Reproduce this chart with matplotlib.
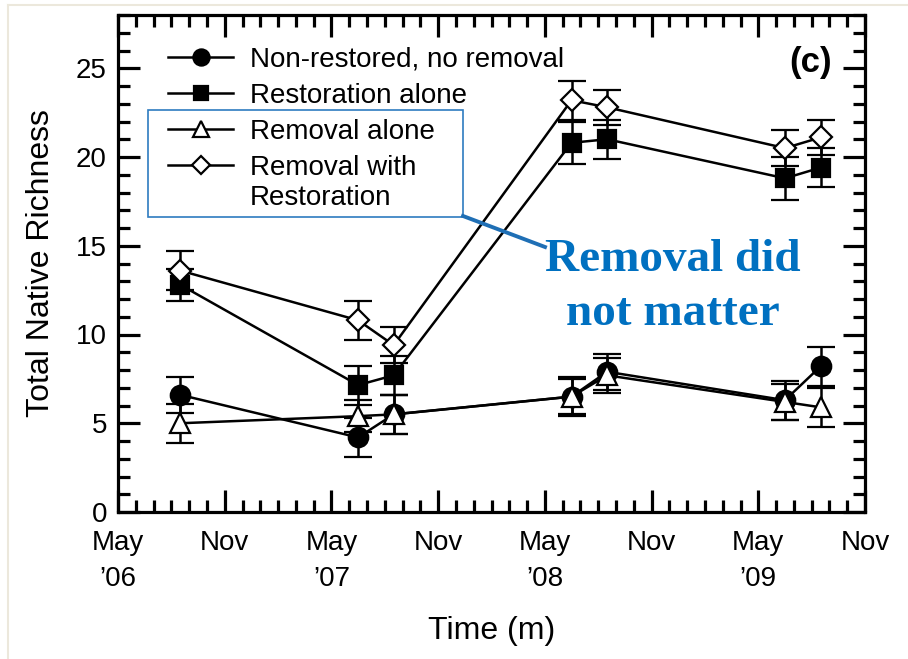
import matplotlib.pyplot as plt
from matplotlib.lines import Line2D
from matplotlib.patches import Rectangle
from matplotlib.ticker import MultipleLocator

plt.rcParams['font.family'] = ['Liberation Sans', 'DejaVu Sans']

# sampling dates, in months since May 2006
months = [3.5, 13.5, 15.5, 25.5, 27.5, 37.5, 39.5]

nonrestored = [6.6, 4.2, 5.5, 6.5, 7.9, 6.3, 8.2]
nonrestored_se = [1.0, 1.1, 1.1, 1.1, 1.0, 1.1, 1.1]
restoration = [12.8, 7.15, 7.7, 20.8, 21.0, 18.8, 19.4]
restoration_se = [0.9, 1.1, 1.1, 1.2, 1.1, 1.2, 1.1]
removal = [5.0, 5.4, 5.5, 6.5, 7.7, 6.2, 5.9]
removal_se = [1.1, 0.9, 1.1, 1.0, 1.0, 1.0, 1.1]
removal_rest = [13.6, 10.8, 9.4, 23.2, 22.8, 20.5, 21.1]
removal_rest_se = [1.1, 1.1, 1.0, 1.1, 1.0, 1.0, 1.0]

labels = ['Non-restored, no removal', 'Restoration alone',
          'Removal alone', 'Removal with']
xticklabels = ['May\n\u201906', 'Nov', 'May\n\u201907', 'Nov',
               'May\n\u201908', 'Nov', 'May\n\u201909', 'Nov']

fig = plt.figure(figsize=(9.08, 6.59), dpi=100)
ax = fig.add_axes([118/908, 1-512/659, (865-118)/908, (512-15)/659])

series = [
    (nonrestored, nonrestored_se, 'o', 'black', 14),
    (restoration, restoration_se, 's', 'black', 13),
    (removal, removal_se, '^', 'white', 14.5),
    (removal_rest, removal_rest_se, 'D', 'white', 11.5),
]
handles = []
for (y, se, m, fc, ms), lab in zip(series, labels):
    eb = ax.errorbar(months, y, yerr=se, color='black', lw=1.8,
                     marker=m, ms=ms, mfc=fc, mec='black', mew=1.6,
                     ecolor='black', elinewidth=1.8, capsize=10, capthick=2.5)
    handles.append(eb.lines[0])

ax.set_xlim(0, 42)
ax.set_ylim(0, 28)
ax.xaxis.set_minor_locator(MultipleLocator(1))
ax.yaxis.set_major_locator(MultipleLocator(5))
ax.yaxis.set_minor_locator(MultipleLocator(1))
ax.set_xticks(range(0, 43, 6))
ax.set_xticklabels(xticklabels, linespacing=1.5)

for s in ax.spines.values():
    s.set_linewidth(2.3)
ax.tick_params(which='both', direction='in', top=True, right=True,
               width=2.3, labelsize=20)
ax.tick_params(which='major', length=16)
ax.tick_params(which='minor', length=8.5)
ax.tick_params(axis='y', pad=8)
ax.tick_params(axis='x', pad=13)

ax.set_ylabel('Total Native Richness', fontsize=23, labelpad=14)
ax.set_xlabel('Time (m)', fontsize=23, labelpad=17)
ax.text(0.956, 0.905, '(c)', transform=ax.transAxes, fontsize=25,
        fontweight='bold', ha='right', va='center')

leg = ax.legend(handles, labels, loc='upper left',
                bbox_to_anchor=((168-118)/747, 0.937), frameon=False,
                fontsize=20, handlelength=2.35, handletextpad=0.6,
                labelspacing=0.37, borderpad=0, borderaxespad=0,
                markerscale=0.83)
# second line of the last legend label, kept flush under its first line
ax.annotate('Restoration', xy=(0, 0), xycoords=leg.texts[3],
            xytext=(0, -21.5), textcoords='offset points',
            fontsize=20, ha='left', va='bottom', zorder=6)

# callout box and connector
fig.add_artist(Rectangle((148/908, 1-217/659), 315/908, 107/659,
                         transform=fig.transFigure, fill=False,
                         ec='#2e7cc0', lw=1.2))
fig.add_artist(Line2D([463/908, 545/908], [1-216/659, 1-247/659],
                      transform=fig.transFigure, color='#1f6fb5', lw=2.8))
fig.text(673/908, 1-287/659, 'Removal did\nnot matter', color='#0070c0',
         fontsize=34, fontweight='bold', family='Liberation Serif',
         ha='center', va='center', multialignment='center', linespacing=1.4)

# slide frame edges
fig.add_artist(Line2D([8/908, 1], [1-5/659, 1-5/659],
                      transform=fig.transFigure, color='#ece8dc', lw=1.5))
fig.add_artist(Line2D([8/908, 8/908], [0, 1-5/659],
                      transform=fig.transFigure, color='#ece8dc', lw=1.5))

fig.savefig('out.png', dpi=100)
